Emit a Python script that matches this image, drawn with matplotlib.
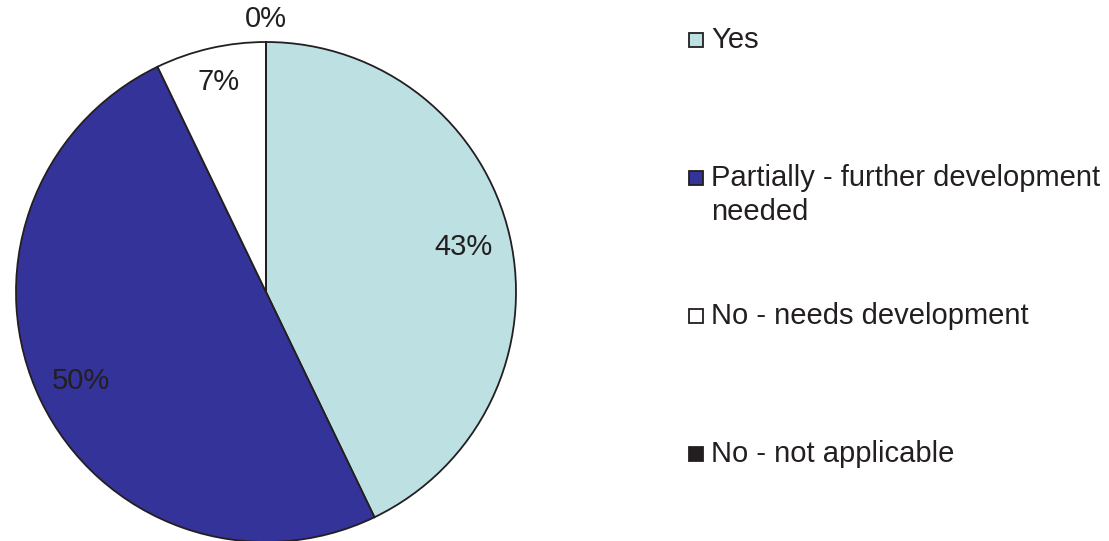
import numpy as np
import matplotlib.pyplot as plt
from matplotlib.patches import Rectangle

plt.rcParams['font.family'] = ['Liberation Sans', 'DejaVu Sans']

labels = ['Yes', 'Partially - further development\nneeded', 'No - needs development', 'No - not applicable']
counts = [6, 7, 1, 0]
pct_text = ['43%', '50%', '7%', '0%']
colors = ['#BDE0E3', '#333399', '#FFFFFF', '#231F20']

W, H = 1109, 541
fig = plt.figure(figsize=(W / 100, H / 100), dpi=100)

# pie axes: center (266, 292) px, radius 250 px
ax = fig.add_axes([16 / W, (H - 542) / H, 500 / W, 500 / H])
wedges, _ = ax.pie(counts, colors=colors, startangle=90, counterclock=False,
                   wedgeprops=dict(edgecolor='#231F20', linewidth=1.3))
ax.set_xlim(-1, 1)
ax.set_ylim(-1, 1)
ax.set_aspect('equal')
ax.axis('off')

# label distance for each slice (as fraction of radius)
dists = [0.81, 0.82, 0.86, 1.09]
for w, txt, d in zip(wedges, pct_text, dists):
    th = np.deg2rad((w.theta1 + w.theta2) / 2)
    ax.text(d * np.cos(th), d * np.sin(th), txt, ha='center', va='center',
            fontsize=21, color='#231F20', clip_on=False)

# legend drawn by hand so multi-line entry keeps marker on first line
for i, (lab, c) in enumerate(zip(labels, colors)):
    yc = 40 + i * 138
    fig.add_artist(Rectangle((689 / W, (H - yc - 7) / H), 14 / W, 14 / H,
                             transform=fig.transFigure, facecolor=c,
                             edgecolor='#231F20', linewidth=1.3))
    for k, line in enumerate(lab.split('\n')):
        fig.text(711 / W, (H - yc - 34 * k) / H, line, ha='left', va='center',
                 fontsize=21, color='#231F20')

fig.savefig('out.png', dpi=100)
